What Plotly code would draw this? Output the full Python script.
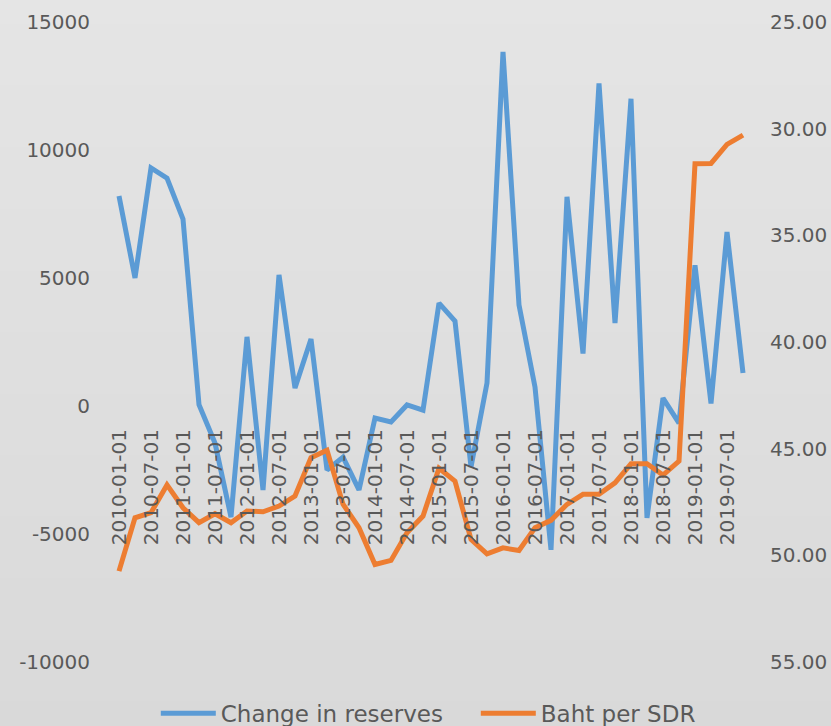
import plotly.graph_objects as go

dates = [f"{y}-{m:02d}-01" for y in range(2010, 2020) for m in (1, 4, 7, 10)]

change_in_reserves = [8200, 5000, 9300, 8900, 7300, 50, -1450, -4340, 2700, -3280,
                      5120, 700, 2620, -2500, -2000, -3280, -470, -620, 40, -160,
                      4020, 3320, -2380, 900, 13830, 3950, 740, -5620, 8170, 2050,
                      12600, 3240, 12000, -4370, 310, -670, 5500, 100, 6800, 1290]

baht_per_sdr = [50.74, 48.24, 48.0, 46.7, 47.77, 48.47, 48.05, 48.47, 47.92, 47.96,
                47.69, 47.22, 45.42, 45.07, 47.6, 48.71, 50.43, 50.24, 48.94, 48.16,
                45.92, 46.52, 49.25, 49.93, 49.65, 49.77, 48.71, 48.36, 47.61, 47.14,
                47.14, 46.6, 45.71, 45.71, 46.24, 45.58, 31.64, 31.63, 30.74, 30.3]

x_tick_labels = dates[::2]
left_ticks = [-10000, -5000, 0, 5000, 10000, 15000]
left_tick_text = ["-10000", "-5000", "0", "5000", "10000", "15000"]
right_ticks = [25, 30, 35, 40, 45, 50, 55]

FONT = "DejaVu Sans"
GRAY = "#595959"

fig = go.Figure()
fig.add_trace(go.Scatter(x=dates, y=change_in_reserves, name="Change in reserves",
                         mode="lines", line=dict(color="#5B9BD5", width=5),
                         yaxis="y", legend="legend"))
fig.add_trace(go.Scatter(x=dates, y=baht_per_sdr, name="Baht per SDR",
                         mode="lines", line=dict(color="#ED7D31", width=5),
                         yaxis="y2", legend="legend2"))

# background vertical gradient
shapes = []
n = 24
top = (0xe5, 0xe5, 0xe5)
bot = (0xd9, 0xd9, 0xd9)
y_lo, y_hi = -0.11, 1.045
for i in range(n):
    t = i / (n - 1)
    c = tuple(round(bot[k] + (top[k] - bot[k]) * t) for k in range(3))
    y0 = y_lo + (y_hi - y_lo) * i / n
    y1 = y_lo + (y_hi - y_lo) * (i + 1) / n
    shapes.append(dict(type="rect", xref="paper", yref="paper",
                       x0=-0.3, x1=1.3, y0=y0, y1=y1 + 0.002, layer="below",
                       line=dict(width=0), fillcolor="rgb(%d,%d,%d)" % c))

legend_common = dict(orientation="h", xanchor="left", y=-0.08, yanchor="middle",
                     font=dict(size=23, color=GRAY), bgcolor="rgba(0,0,0,0)",
                     itemwidth=55, borderwidth=0)

fig.update_layout(
    width=831, height=726,
    margin=dict(l=111, r=80, t=22, b=64, autoexpand=False),
    paper_bgcolor="#dfdfdf",
    plot_bgcolor="rgba(0,0,0,0)",
    font=dict(family=FONT, color=GRAY, size=20),
    shapes=shapes,
    showlegend=True,
    legend=dict(x=0.07, **legend_common),
    legend2=dict(x=0.57, **legend_common),
    xaxis=dict(type="category", range=[-0.5, 39.5], tickmode="array",
               tickvals=x_tick_labels, ticktext=x_tick_labels, tickangle=-90,
               showgrid=False, zeroline=False, showline=False, ticks="",
               anchor="free", position=0.4, ticklabelstandoff=18,
               automargin=False, tickfont=dict(size=20, color=GRAY)),
    yaxis=dict(range=[-10000, 15000], tickvals=left_ticks, ticktext=left_tick_text,
               showgrid=False, zeroline=False, showline=False, ticks="",
               ticklabelstandoff=20, automargin=False,
               tickfont=dict(size=20, color=GRAY)),
    yaxis2=dict(range=[55, 25], tickvals=right_ticks, tickformat=".2f",
                overlaying="y", side="right", showgrid=False, zeroline=False,
                showline=False, ticks="", ticklabelstandoff=18, automargin=False,
                tickfont=dict(size=20, color=GRAY)),
)

fig.write_html("out.html",
               config={"displayModeBar": False},
               post_script="document.body.style.margin='0';document.body.style.padding='0';")
